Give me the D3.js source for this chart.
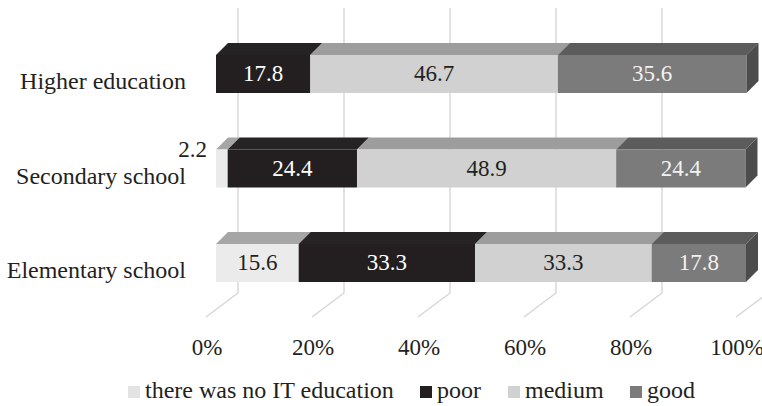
<!DOCTYPE html>
<html>
<head>
<meta charset="utf-8">
<script src="https://cdn.jsdelivr.net/npm/d3@7"></script>
<style>
  html, body { margin: 0; padding: 0; background: #ffffff; }
  svg { display: block; }
</style>
</head>
<body>
<svg id="chart" width="762" height="406"></svg>
<script>
// Survey shares (%) per school level
const categories = ["Higher education", "Secondary school", "Elementary school"];
const noIT   = [0,    2.2,  15.6];
const poor   = [17.8, 24.4, 33.3];
const medium = [46.7, 48.9, 33.3];
const good   = [35.6, 24.4, 17.8];
const seriesNames = ["there was no IT education", "poor", "medium", "good"];
const tickValues = [0, 20, 40, 60, 80, 100];

const seriesValues = [noIT, poor, medium, good];
const fronts = ["#ebebeb", "#231f20", "#d1d1d1", "#7b7b7b"];
const tops   = ["#a6a6a6", "#262324", "#9d9d9d", "#5c5c5c"];
const sides  = ["#c8c8c8", "#151314", "#b0b0b0", "#4c4c4c"];
const labelColors = ["#231f20", "#ffffff", "#231f20", "#f2f2f2"];
const legendFill = ["#e3e3e3", "#231f20", "#d1d1d1", "#7b7b7b"];

const FONT = '"Liberation Serif"';

const svg = d3.select("#chart");
const x = d3.scaleLinear().domain([0, 100]).range([216, 746]);
const y = d3.scalePoint().domain(categories).range([74, 263]);
const barH = 38;
const depth = { dx: 12, dy: 12 };              // bar box depth (oblique)
const wall = { dx: 22, top: 8, bottom: 293 };  // back wall offset from bar front
const floorFront = { dx: -10, y: 317 };        // front edge of the floor

function label(sel) {
  return sel.style("font-family", FONT).attr("fill", "#231f20");
}

// Stacked segments built from the series arrays
const rows = categories.map((c, i) => {
  let acc = 0;
  const segs = seriesValues.map((arr, s) => {
    const v = arr[i];
    const seg = { s, v, x0: acc, x1: acc + v };
    acc += v;
    return seg;
  }).filter(d => d.v > 0);
  return { cat: c, segs };
});

// Back wall gridlines and floor lines
const grid = svg.append("g");
tickValues.forEach(t => {
  const bx = x(t) + wall.dx;
  const fx = x(t) + floorFront.dx;
  grid.append("path")
    .attr("d", `M${bx},${wall.top}L${bx},${wall.bottom}L${fx},${floorFront.y}`)
    .attr("fill", "none")
    .attr("stroke", "#d6d6d6")
    .attr("stroke-width", 1.4);
});

// Bars: front face, top face, and right side of the last segment
const bars = svg.append("g");
rows.forEach(row => {
  const yT = y(row.cat) - barH / 2;
  const yB = yT + barH;
  const g = bars.append("g");
  row.segs.forEach((d, k) => {
    const a = x(d.x0), b = x(d.x1);
    g.append("polygon")
      .attr("points", [[a, yT], [a + depth.dx, yT - depth.dy], [b + depth.dx, yT - depth.dy], [b, yT]].join(" "))
      .attr("fill", tops[d.s]);
    g.append("rect")
      .attr("x", a).attr("y", yT)
      .attr("width", b - a).attr("height", barH)
      .attr("fill", fronts[d.s]);
    if (k === row.segs.length - 1) {
      g.append("polygon")
        .attr("points", [[b, yT], [b + depth.dx, yT - depth.dy], [b + depth.dx, yB - depth.dy], [b, yB]].join(" "))
        .attr("fill", sides[d.s]);
    }
  });
  // value labels
  row.segs.forEach(d => {
    const a = x(d.x0), b = x(d.x1);
    const txt = d3.format(".1f")(d.v);
    if (b - a > 40) {
      label(g.append("text"))
        .attr("x", (a + b) / 2)
        .attr("y", (yT + yB) / 2 + 7)
        .attr("text-anchor", "middle")
        .attr("font-size", 23)
        .attr("fill", labelColors[d.s])
        .text(txt);
    } else {
      label(g.append("text"))
        .attr("x", a - 9)
        .attr("y", yT + 7)
        .attr("text-anchor", "end")
        .attr("font-size", 23)
        .text(txt);
    }
  });
});

// Category axis labels
label(svg.append("g").selectAll("text")
  .data(categories)
  .join("text"))
  .attr("x", 186)
  .attr("y", d => y(d) + 15)
  .attr("text-anchor", "end")
  .attr("font-size", 24)
  .text(d => d);

// Value axis tick labels along the floor front edge
label(svg.append("g").selectAll("text")
  .data(tickValues)
  .join("text"))
  .attr("x", d => x(d) + floorFront.dx + 1)
  .attr("y", 355)
  .attr("text-anchor", "middle")
  .attr("font-size", 23)
  .text(d => d + "%");

// Legend
const legendX = [128, 420, 508, 630];
const legend = svg.append("g");
seriesNames.forEach((name, i) => {
  legend.append("rect")
    .attr("x", legendX[i]).attr("y", 386)
    .attr("width", 12).attr("height", 12)
    .attr("fill", legendFill[i]);
  label(legend.append("text"))
    .attr("x", legendX[i] + 17)
    .attr("y", 398)
    .attr("font-size", 24)
    .text(name);
});
</script>
</body>
</html>
